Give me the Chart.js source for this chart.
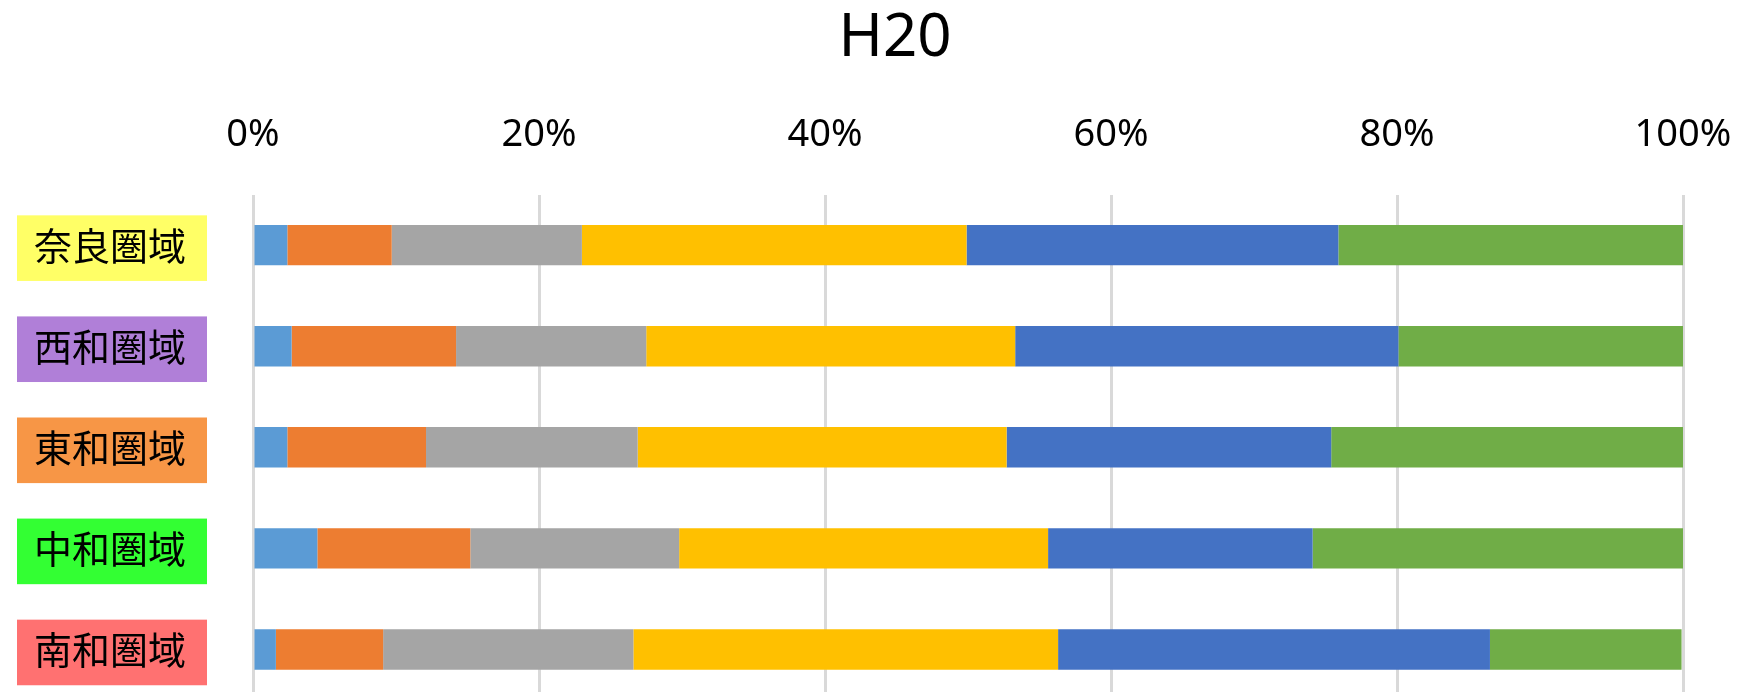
<!DOCTYPE html>
<html>
<head>
<meta charset="utf-8">
<script src="https://cdn.jsdelivr.net/npm/chart.js@4"></script>
<style>
  html, body { margin: 0; padding: 0; background: #fff; overflow: hidden; }
</style>
</head>
<body>
<canvas id="myChart" width="1741" height="720"></canvas>
<script>
// categories (areas) and the coloured boxes behind their names
const areas = ["奈良圏域", "西和圏域", "東和圏域", "中和圏域", "南和圏域"];
const areaColors = ["#ffff66", "#b07fd8", "#f79646", "#33ff33", "#ff7171"];

// series values, share in % per area
const seriesNames = ["系列1", "系列2", "系列3", "系列4", "系列5", "系列6"];
const series1 = [2.4, 2.7, 2.4, 4.5, 1.6];
const series2 = [7.3, 11.5, 9.7, 10.7, 7.5];
const series3 = [13.3, 13.3, 14.8, 14.6, 17.5];
const series4 = [26.9, 25.8, 25.8, 25.8, 29.7];
const series5 = [26.0, 26.8, 22.7, 18.5, 30.2];
const series6 = [24.1, 19.9, 24.6, 25.9, 13.4];
const seriesColors = ["#5b9bd5", "#ed7d31", "#a5a5a5", "#ffc000", "#4472c4", "#70ad47"];

// x axis tick labels
const xTickLabels = ["0%", "20%", "40%", "60%", "80%", "100%"];

const allSeries = [series1, series2, series3, series4, series5, series6];

const data = {
  labels: areas,
  datasets: allSeries.map((values, i) => ({
    label: seriesNames[i],
    data: values,
    backgroundColor: seriesColors[i],
    borderWidth: 0,
    barPercentage: 0.4,
    categoryPercentage: 1,
  })),
};

const config = {
  type: "bar",
  data: data,
  options: {
    indexAxis: "y",
    responsive: false,
    animation: false,
    // right padding is negative so the full width title sits where it does in the original
    layout: { padding: { left: 10, right: -39, top: 0, bottom: 20 } },
    plugins: {
      legend: { display: false },
      tooltip: { enabled: false },
      title: {
        display: true,
        text: "H20",
        color: "#000",
        font: { family: "'Noto Sans'", size: 60, weight: "normal", lineHeight: 1.1 },
        padding: { top: 6, bottom: 3 },
      },
    },
    scales: {
      x: {
        position: "top",
        stacked: true,
        min: 0,
        max: 100,
        ticks: {
          stepSize: 20,
          color: "#000",
          font: { family: "'Noto Sans'", size: 38, lineHeight: 1.2 },
          padding: 37,
          callback: (value) => xTickLabels[value / 20],
        },
        grid: { color: "#d9d9d9", lineWidth: 3, drawTicks: false },
        border: { display: false },
        afterFit: (scale) => {
          scale.paddingRight = 58;
        },
      },
      y: {
        stacked: true,
        ticks: {
          color: "#000",
          font: { family: "'Noto Sans CJK JP'", size: 38, lineHeight: 1.2 },
          padding: 67,
          showLabelBackdrop: true,
          backdropColor: (c) => areaColors[c.index],
          backdropPadding: { top: 7, bottom: 13, left: 17, right: 21 },
        },
        grid: { display: false, drawTicks: false },
        border: { display: false },
        afterFit: (scale) => {
          scale.width = 243;
          scale.paddingTop = 0;
          scale.paddingBottom = 0;
        },
      },
    },
  },
};

let myChart = new Chart(document.getElementById("myChart"), config);
</script>
</body>
</html>
